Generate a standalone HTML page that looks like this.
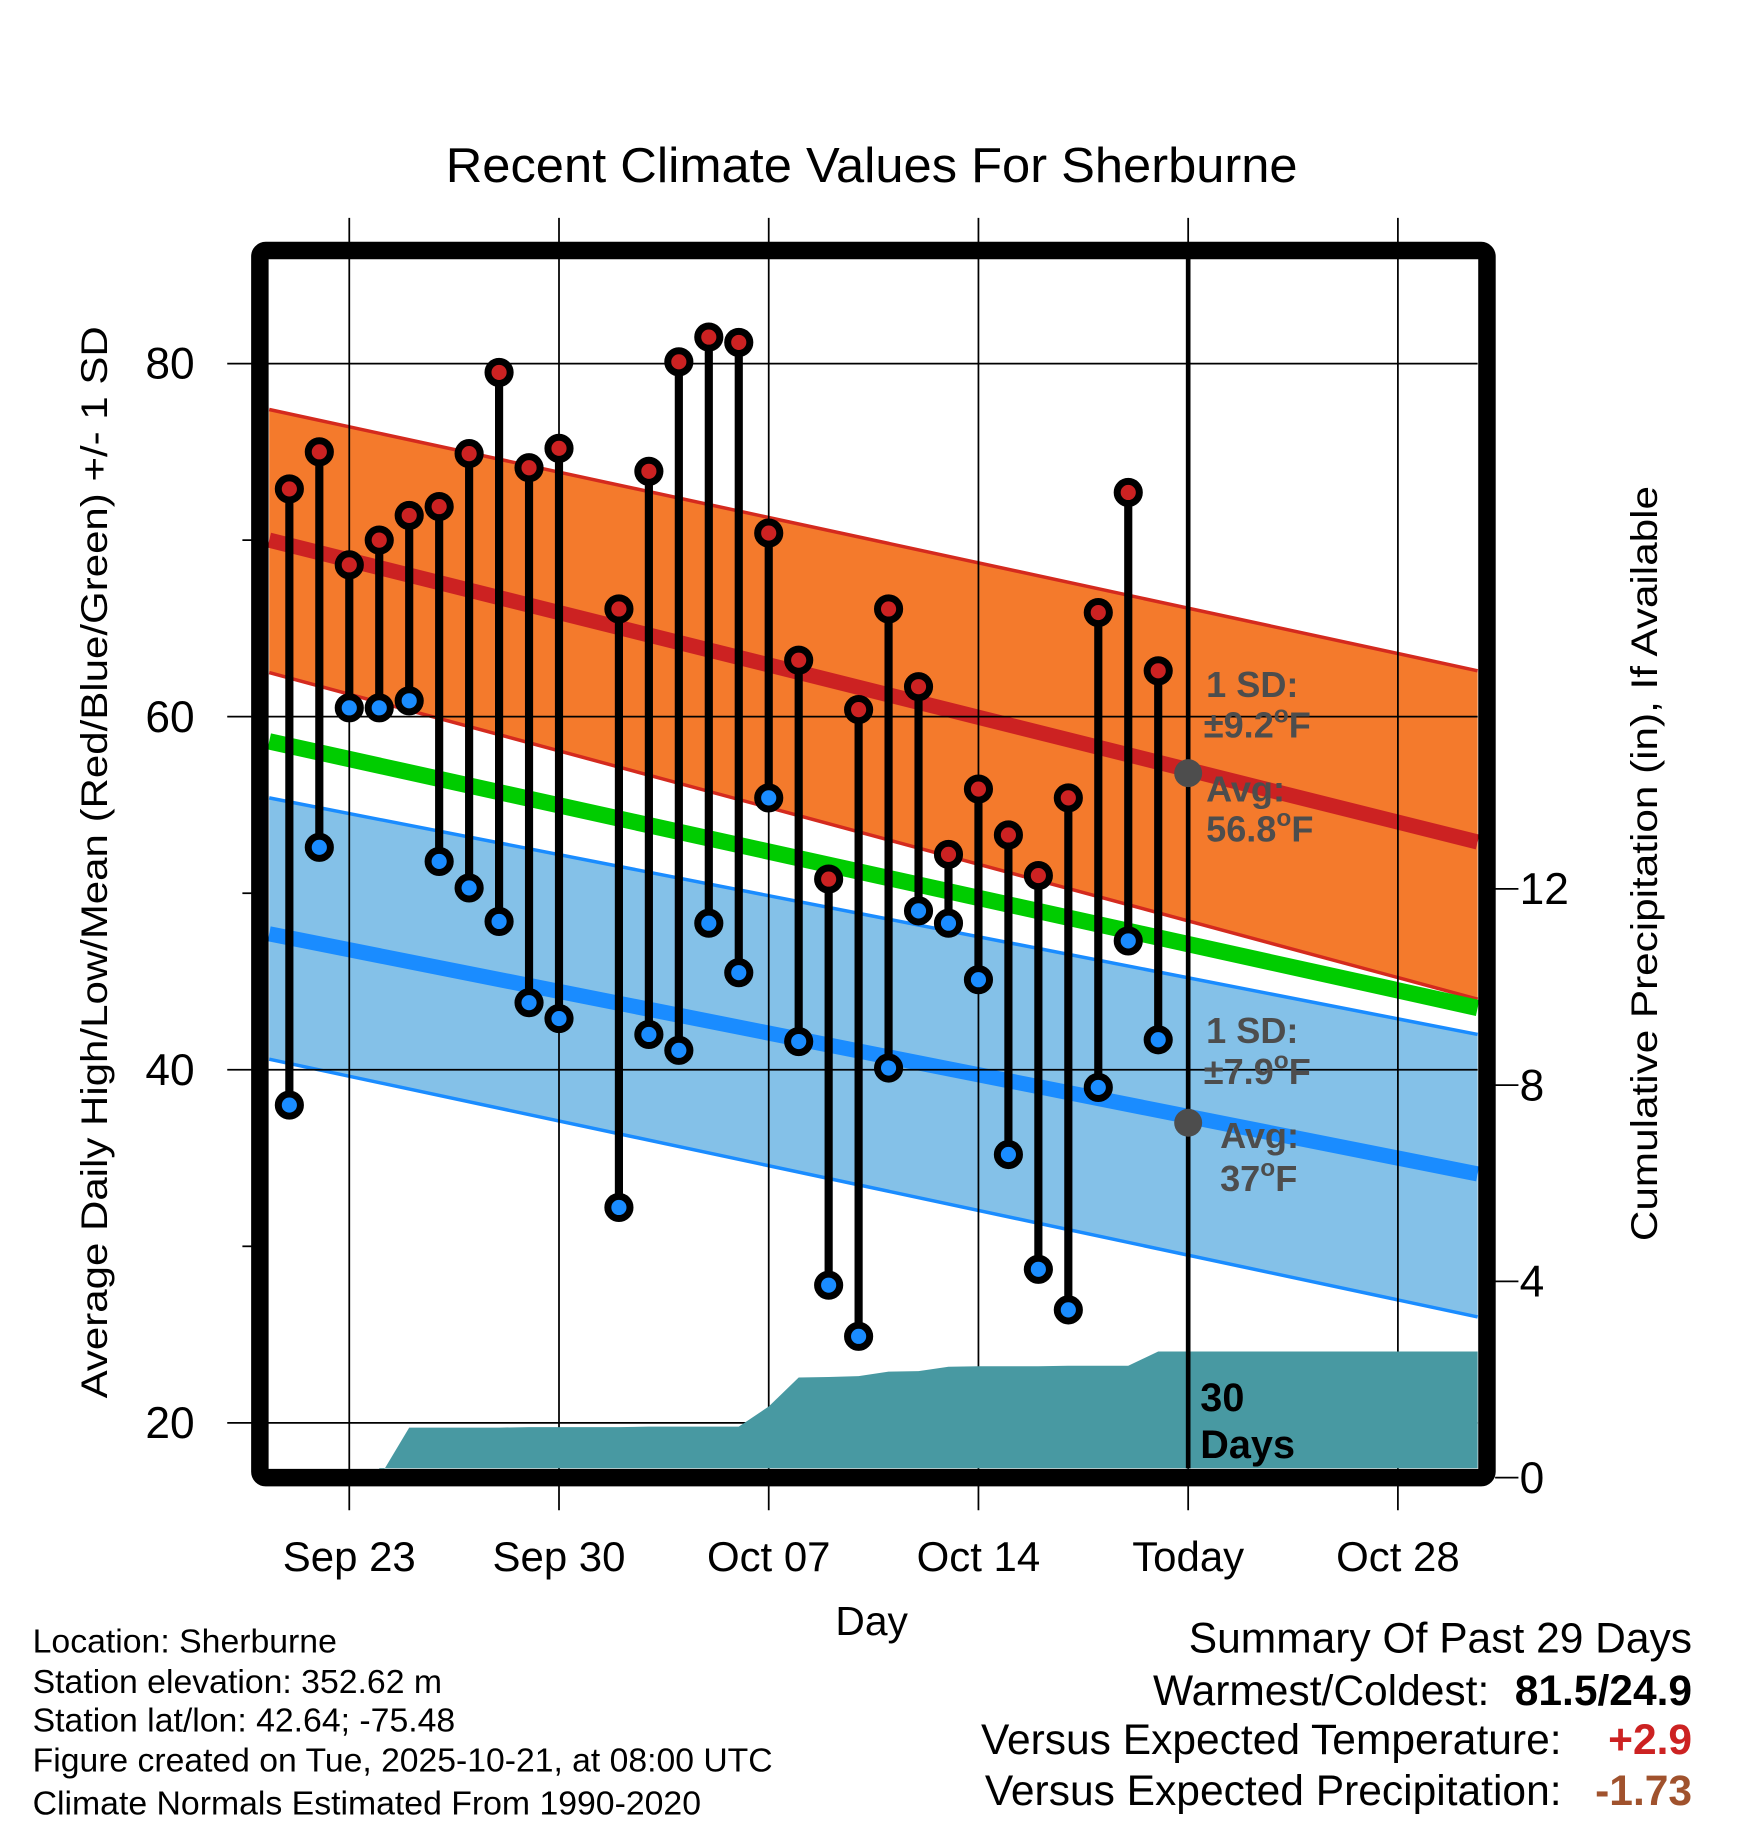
<!DOCTYPE html>
<html><head><meta charset="utf-8"><style>
html,body{margin:0;padding:0;background:#fff}
svg{display:block;font-family:"Liberation Sans",Arial,sans-serif}
</style></head><body>
<svg id="chart" width="1748" height="1828" viewBox="0 0 1500 1568.66" xmlns="http://www.w3.org/2000/svg">
<rect x="0" y="0" width="1500" height="1568.66" fill="#fff"/>
<text x="748" y="156" font-size="42" text-anchor="middle" textLength="731" lengthAdjust="spacingAndGlyphs">Recent Climate Values For Sherburne</text>
<g id="bands"></g>
<g id="grid"></g>
<g id="precip"></g>
<g id="marks"></g>
<g font-size="31" font-weight="bold" fill="#4d4d4d">
<text x="1035" y="598">1 SD:</text>
<text x="1033" y="633">±9.2<tspan font-size="21" dy="-13">o</tspan><tspan dy="13">F</tspan></text>
<text x="1035" y="688">Avg:</text>
<text x="1035" y="722">56.8<tspan font-size="21" dy="-13">o</tspan><tspan dy="13">F</tspan></text>
<text x="1035" y="895">1 SD:</text>
<text x="1033" y="930">±7.9<tspan font-size="21" dy="-13">o</tspan><tspan dy="13">F</tspan></text>
<text x="1047" y="985">Avg:</text>
<text x="1047" y="1022">37<tspan font-size="21" dy="-13">o</tspan><tspan dy="13">F</tspan></text>
</g>
<g font-size="34" font-weight="bold" fill="#000">
<text x="1030" y="1211">30</text><text x="1030" y="1251">Days</text>
</g>
<rect x="223" y="215" width="1053" height="1053" rx="5" fill="none" stroke="#000" stroke-width="15"/>
<g id="axes"></g>
<text transform="translate(92,740) rotate(-90)" font-size="32" text-anchor="middle" textLength="920" lengthAdjust="spacingAndGlyphs">Average Daily High/Low/Mean (Red/Blue/Green) +/- 1 SD</text>
<text transform="translate(1422,741) rotate(-90)" font-size="32" text-anchor="middle" textLength="648" lengthAdjust="spacingAndGlyphs">Cumulative Precipitation (in), If Available</text>
<text x="748" y="1403" font-size="35" text-anchor="middle">Day</text>
<g font-size="29">
<text x="28" y="1418">Location: Sherburne</text>
<text x="28" y="1453">Station elevation: 352.62 m</text>
<text x="28" y="1486">Station lat/lon: 42.64; -75.48</text>
<text x="28" y="1520" textLength="635" lengthAdjust="spacingAndGlyphs">Figure created on Tue, 2025-10-21, at 08:00 UTC</text>
<text x="28" y="1557">Climate Normals Estimated From 1990-2020</text>
</g>
<g font-size="36.5">
<text x="1452" y="1418" text-anchor="end">Summary Of Past 29 Days</text>
<text x="1278" y="1463" text-anchor="end">Warmest/Coldest:</text>
<text x="1452" y="1463" text-anchor="end" font-weight="bold">81.5/24.9</text>
<text x="1340" y="1505" text-anchor="end">Versus Expected Temperature:</text>
<text x="1452" y="1505" text-anchor="end" font-weight="bold" fill="#cc2222">+2.9</text>
<text x="1340" y="1549" text-anchor="end">Versus Expected Precipitation:</text>
<text x="1452" y="1549" text-anchor="end" font-weight="bold" fill="#a0522d">-1.73</text>
</g>
</svg>
<script>
// day index 0 = Sep 21; null = missing
const highs = [72.9,75.0,68.6,70.0,71.4,71.9,74.9,79.5,74.1,75.2,null,66.1,73.9,80.1,81.5,81.2,70.4,63.2,50.8,60.4,66.1,61.7,52.2,55.9,53.3,51.0,55.4,65.9,72.7,62.6];
const lows  = [38.0,52.6,60.5,60.5,60.9,51.8,50.3,48.4,43.8,42.9,null,32.2,42.0,41.1,48.3,45.5,55.4,41.6,27.8,24.9,40.1,49.0,48.3,45.1,35.2,28.7,26.4,39.0,47.3,41.7];
const precip = [0,0,0,0,1.02,1.02,1.02,1.02,1.03,1.03,1.03,1.03,1.04,1.04,1.04,1.04,1.45,2.04,2.05,2.07,2.16,2.17,2.26,2.27,2.27,2.27,2.28,2.28,2.28,2.57];
// normals at plot left edge / right edge
const highAvg = [70.0,52.9], highUpper = [77.4,62.6], highLower = [62.5,44.0];
const meanAvg = [58.6,43.5];
const lowAvg = [47.7,34.1], lowUpper = [55.4,42.0], lowLower = [40.6,26.0];
const todayHigh = 56.8, todayLow = 37.0;
const yTicks = [20,40,60,80], yMinor = [30,50,70];
const pTicks = [0,4,8,12];
const xTickDays = [2,9,16,23,30,37];
const xTickLabels = ["Sep 23","Sep 30","Oct 07","Oct 14","Today","Oct 28"];
const todayIdx = 30;

const NS="http://www.w3.org/2000/svg";
const L=231,R=1268,T=222,B=1260;
const x=d=>248.3+d*25.71;
const y=v=>312+(80-v)*15.15;
const yp=p=>1268-p*42.1;
function mk(tag,parent,attrs){const e=document.createElementNS(NS,tag);for(const k in attrs)e.setAttribute(k,attrs[k]);parent.appendChild(e);return e;}
const bands=document.getElementById('bands'),grid=document.getElementById('grid'),pr=document.getElementById('precip'),marks=document.getElementById('marks'),axes=document.getElementById('axes');
function band(up,lo,fill,edge,name){
  const p=mk('polygon',bands,{points:`${L},${y(up[0])} ${R},${y(up[1])} ${R},${y(lo[1])} ${L},${y(lo[0])}`,fill:fill});
  
  
  [up,lo].forEach(a=>{const l=mk('line',bands,{x1:L,y1:y(a[0]),x2:R,y2:y(a[1]),stroke:edge,'stroke-width':3});
    
    });
}
function line(a,col,w,name){const l=mk('line',bands,{x1:L,y1:y(a[0]),x2:R,y2:y(a[1]),stroke:col,'stroke-width':w});
  
  }
band(highUpper,highLower,'#f47a2c','#d42a1e','high-sd-band');
band(lowUpper,lowLower,'#84c1e8','#1a8cff','low-sd-band');
line(highAvg,'#cc2222',13,'avg-high-line');
line(meanAvg,'#00cc00',14,'avg-mean-line');
line(lowAvg,'#1a8cff',13,'avg-low-line');
yTicks.forEach(v=>{const g=mk('line',grid,{x1:195,y1:y(v),x2:R,y2:y(v),stroke:'#000','stroke-width':1.5});
  
  });
xTickDays.forEach(d=>{const g=mk('line',grid,{x1:x(d),y1:187,x2:x(d),y2:1296,stroke:'#000','stroke-width':1.5});
  
  });
let pts=`${x(3)},${yp(0)} `;
precip.forEach((p,i)=>{if(i>=3)pts+=`${x(i)},${yp(p)} `;});
pts+=`${R},${yp(precip[precip.length-1])} ${R},${B} ${x(3)},${B}`;
const pa=mk('polygon',pr,{points:pts,fill:'#4899a2'});


const tl=mk('line',marks,{x1:x(todayIdx),y1:T,x2:x(todayIdx),y2:B,stroke:'#000','stroke-width':4});


[todayHigh,todayLow].forEach(v=>{const c=mk('circle',marks,{cx:x(todayIdx),cy:y(v),r:12,fill:'#4d4d4d'});
  
  });
highs.forEach((h,i)=>{if(h==null)return;const lo=lows[i];
  const s=mk('line',marks,{x1:x(i),y1:y(h),x2:x(i),y2:y(lo),stroke:'#000','stroke-width':7});
  
  
  const ch=mk('circle',marks,{cx:x(i),cy:y(h),r:9.5,fill:'#cc2222',stroke:'#000','stroke-width':6});
  
  
  const cl=mk('circle',marks,{cx:x(i),cy:y(lo),r:9.5,fill:'#1a8cff',stroke:'#000','stroke-width':6});
  
  
});
yTicks.forEach(v=>{const t=mk('text',axes,{x:167,y:y(v)+13,'font-size':38,'text-anchor':'end'});t.textContent=v;
  
  });
yMinor.forEach(v=>{const t=mk('line',axes,{x1:208,y1:y(v),x2:216,y2:y(v),stroke:'#000','stroke-width':1.5});
  
  });
pTicks.forEach(p=>{const k=mk('line',axes,{x1:1283,y1:yp(p),x2:1303,y2:yp(p),stroke:'#000','stroke-width':1.5});
  
  
  const t=mk('text',axes,{x:1304,y:yp(p)+13,'font-size':38});t.textContent=p;
  
  });
xTickDays.forEach((d,i)=>{const t=mk('text',axes,{x:x(d),y:1348,'font-size':36,'text-anchor':'middle'});t.textContent=xTickLabels[i];
  
  });
</script>
</body></html>
